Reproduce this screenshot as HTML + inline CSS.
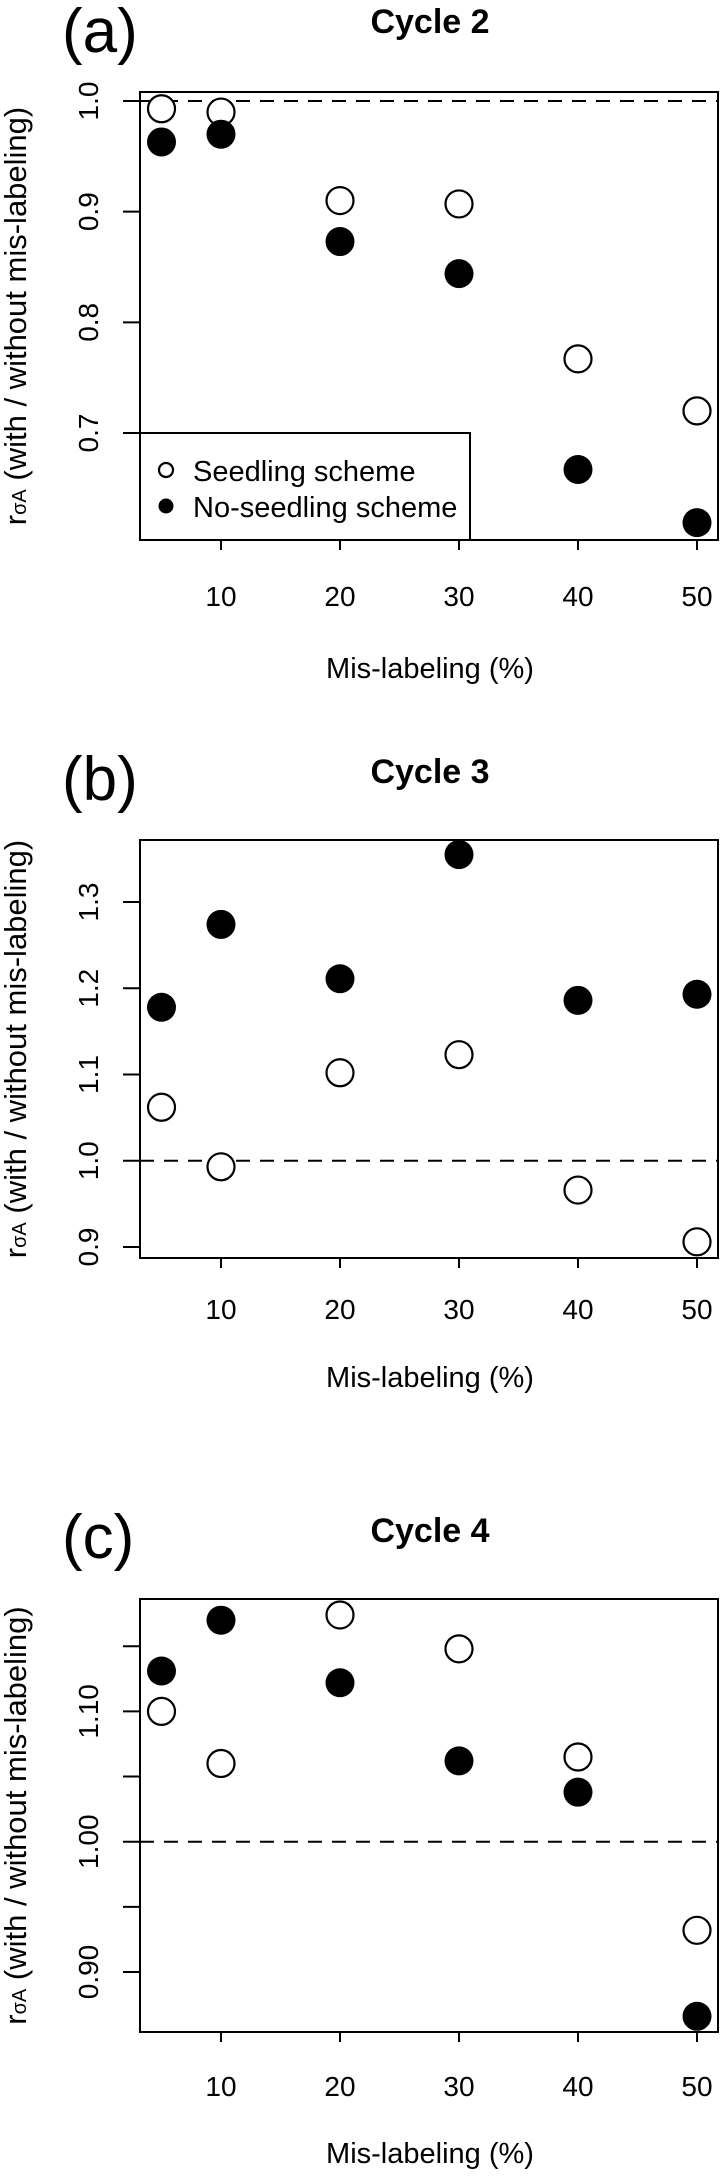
<!DOCTYPE html>
<html><head><meta charset="utf-8"><style>
html,body{margin:0;padding:0;background:#fff;}
svg{display:block;font-family:"Liberation Sans",Arial,sans-serif;}
</style></head><body>
<svg id="chart" width="720" height="2176" viewBox="0 0 720 2176" xmlns="http://www.w3.org/2000/svg"></svg>
<script>
const categories = [5, 10, 20, 30, 40, 50];
const xTickLabels = [10, 20, 30, 40, 50];
const seedA = [0.993, 0.990, 0.910, 0.907, 0.767, 0.720];
const noSeedA = [0.963, 0.970, 0.873, 0.844, 0.667, 0.619];
const seedB = [1.062, 0.993, 1.102, 1.123, 0.966, 0.906];
const noSeedB = [1.178, 1.274, 1.211, 1.355, 1.186, 1.193];
const seedC = [1.100, 1.060, 1.174, 1.148, 1.065, 0.932];
const noSeedC = [1.131, 1.170, 1.122, 1.062, 1.038, 0.866];
const yTicksA = [0.7, 0.8, 0.9, 1.0];
const yTicksB = [0.9, 1.0, 1.1, 1.2, 1.3];
const yTicksC = [0.90, 0.95, 1.00, 1.05, 1.10, 1.15];
const yLabelsC = ["0.90", "", "1.00", "", "1.10", ""];

const NS = "http://www.w3.org/2000/svg";
const svg = document.getElementById("chart");
function mk(tag, attrs, parent) {
  const e = document.createElementNS(NS, tag);
  for (const k in attrs) e.setAttribute(k, attrs[k]);
  (parent || svg).appendChild(e);
  return e;
}
const L = 140, R = 718;
function xs(v) { return 221 + (v - 10) * (697 - 221) / 40; }

function panel(cfg) {
  const g = mk("g", {});
  
  
  const ys = v => cfg.y0px + (v - cfg.y0) * (cfg.y1px - cfg.y0px) / (cfg.y1 - cfg.y0);
  const letter = mk("text", {x: 62, y: cfg.letterY, "font-size": 62}, g);
  letter.textContent = "(" + cfg.id + ")";
  
  
  const title = mk("text", {x: 430, y: cfg.titleY, "font-size": 34, "font-weight": "bold", "text-anchor": "middle"}, g);
  title.textContent = cfg.title;
  
  
  const box = mk("rect", {x: L, y: cfg.top, width: R - L, height: cfg.bottom - cfg.top, fill: "none", stroke: "#000", "stroke-width": 2}, g);
  
  
  const ref = mk("line", {x1: L, x2: R, y1: ys(1.0), y2: ys(1.0), stroke: "#000", "stroke-width": 2, "stroke-dasharray": "14,10"}, g);
  
  
  xTickLabels.forEach(v => {
    const t = mk("line", {x1: xs(v), x2: xs(v), y1: cfg.bottom, y2: cfg.bottom + 10, stroke: "#000", "stroke-width": 2}, g);
    
    
    const tl = mk("text", {x: xs(v), y: cfg.xLabY, "font-size": 28, "text-anchor": "middle"}, g);
    tl.textContent = v;
    
    
  });
  const xt = mk("text", {x: 430, y: cfg.xTitleY, "font-size": 29, "text-anchor": "middle"}, g);
  xt.textContent = "Mis-labeling (%)";
  
  
  cfg.yTicks.forEach((v, i) => {
    const t = mk("line", {x1: L - 17, x2: L, y1: ys(v), y2: ys(v), stroke: "#000", "stroke-width": 2}, g);
    
    
    const lab = cfg.yLabels ? cfg.yLabels[i] : v.toFixed(1);
    if (lab) {
      const tl = mk("text", {x: 98, y: ys(v), "font-size": 28, "text-anchor": "middle", transform: "rotate(-90 98 " + ys(v) + ")"}, g);
      tl.textContent = lab;
      
      
    }
  });
  const cy = (cfg.top + cfg.bottom) / 2;
  const yt = mk("text", {x: 26, y: cy, "font-size": 31, "text-anchor": "middle", transform: "rotate(-90 26 " + cy + ")"}, g);
  
  
  const t1 = mk("tspan", {}, yt); t1.textContent = "r";
  const t2 = mk("tspan", {"font-size": 20}, yt); t2.textContent = "σA";
  const t3 = mk("tspan", {}, yt); t3.textContent = " (with / without mis-labeling)";
  categories.forEach((c, i) => {
    const o = mk("circle", {cx: xs(c), cy: ys(cfg.seed[i]), r: 13.5, fill: "#fff", stroke: "#000", "stroke-width": 2.2}, g);
    
    
    const f = mk("circle", {cx: xs(c), cy: ys(cfg.noSeed[i]), r: 14.5, fill: "#000"}, g);
    
    
  });
  return {g, ys};
}

const pa = panel({id: "a", title: "Cycle 2", letterY: 52, titleY: 33, top: 92, bottom: 540,
  y0: 1.0, y1: 0.7, y0px: 101, y1px: 433, yTicks: yTicksA, seed: seedA, noSeed: noSeedA, xLabY: 606, xTitleY: 678});
const pb = panel({id: "b", title: "Cycle 3", letterY: 800, titleY: 783, top: 840, bottom: 1258,
  y0: 1.3, y1: 0.9, y0px: 902, y1px: 1247, yTicks: yTicksB, seed: seedB, noSeed: noSeedB, xLabY: 1319, xTitleY: 1387});
const pc = panel({id: "c", title: "Cycle 4", letterY: 1558, titleY: 1542, top: 1599, bottom: 2032,
  y0: 1.0, y1: 0.9, y0px: 1841.7, y1px: 1972, yTicks: yTicksC, yLabels: yLabelsC, seed: seedC, noSeed: noSeedC, xLabY: 2096, xTitleY: 2163});

const lg = mk("g", {});


const lb = mk("rect", {x: L, y: 433, width: 330, height: 107, fill: "#fff", stroke: "#000", "stroke-width": 2}, lg);


const e1 = mk("circle", {cx: 166, cy: 470, r: 7, fill: "#fff", stroke: "#000", "stroke-width": 2.2}, lg);


const e2 = mk("circle", {cx: 166, cy: 506, r: 7.5, fill: "#000"}, lg);


const l1 = mk("text", {x: 193, y: 481, "font-size": 29}, lg);
l1.textContent = "Seedling scheme";


const l2 = mk("text", {x: 193, y: 517, "font-size": 29}, lg);
l2.textContent = "No-seedling scheme";


Array.from(pa.g.querySelectorAll("circle")).forEach(c => svg.appendChild(c));
</script>
</body></html>
